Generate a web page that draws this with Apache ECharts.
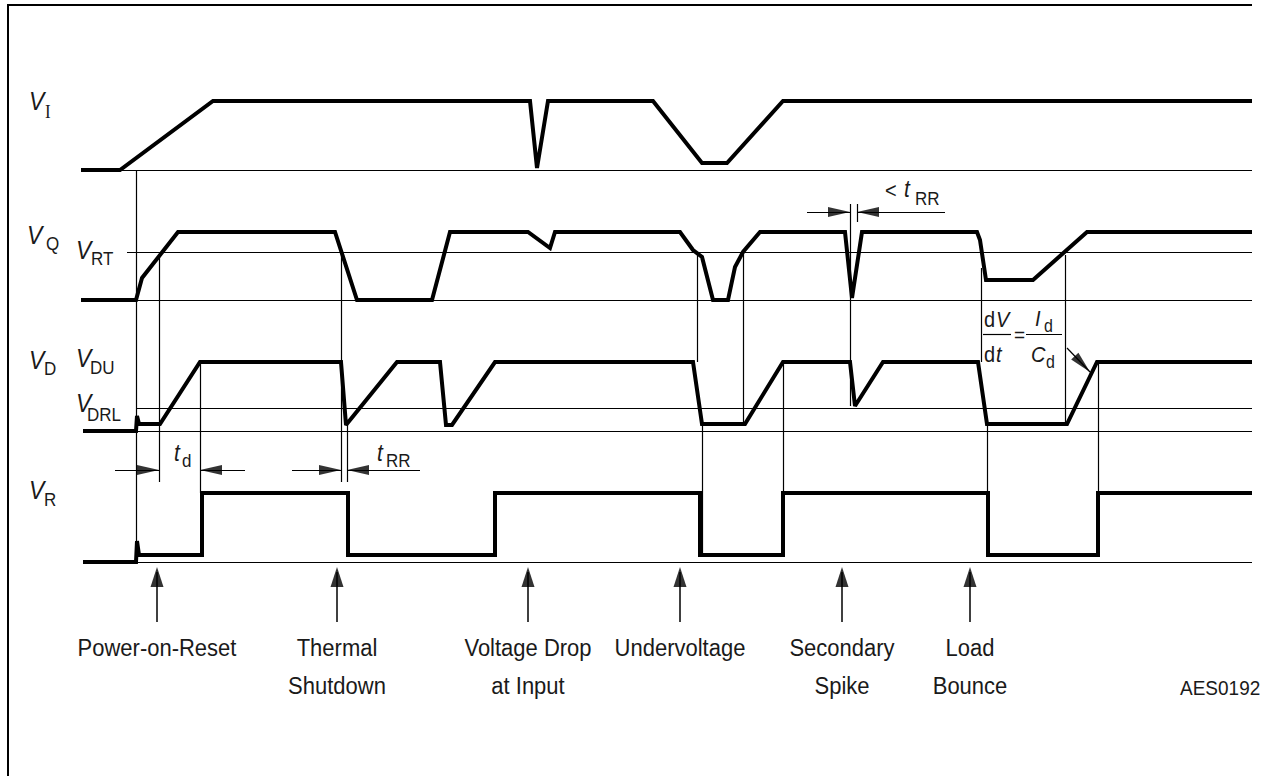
<!DOCTYPE html>
<html><head><meta charset="utf-8">
<script src="https://cdn.jsdelivr.net/npm/echarts@6/dist/echarts.min.js"></script>
<style>html,body{margin:0;padding:0;background:#fff}#c{width:1263px;height:776px}</style>
</head><body><div id="c"></div>
<script>
// ---- Data (time axis 0..1263, level axis 0..776 downward) ----
const VI_T = [81,120,213,530,537,548,653,702,727,783,1252];
const VI_V = [170,170,101,101,168,101,101,163,163,101,101];

const VQ_T = [81,136,142,178,335,357,432,450,528,550,555,680,693,702,713,728,735,743,760,845,852,862,977,980,986,1033,1087,1252];
const VQ_V = [300,300,278,232,232,300,300,232,232,248,232,232,250,257,300,300,267,252,232,232,298,232,232,240,280,280,232,232];

const VD_T = [83,136,137,139,160,200,341,346,397,440,446,452,495,693,702,745,783,850,855,883,978,987,1067,1097,1252];
const VD_V = [431,431,416,424,424,362,362,425,362,362,425,425,362,362,424,424,362,362,406,362,362,424,424,362,362];

const VR_T = [83,136,137,139,202,202,348,348,495,495,700,700,783,783,988,988,1098,1098,1252];
const VR_V = [562,562,541,555,555,493,493,555,555,493,493,555,555,493,493,555,555,493,493];

// reference levels: [from t, to t, level]
const LEVELS = [[120,1252,170],[136,1252,300],[127,1252,252],[136,1252,431],[137,1252,408],[136,1252,562]];
// projection lines: [t, from level, to level]
const PROJ = [[136,170,562],[159,257,482],[200,362,493],[341,250,482],[347,425,482],[697,252,362],[743,252,424],
              [702,424,555],[783,362,493],[850,204,406],[857,204,222],[981,268,362],[987,424,555],[1065,255,424],[1098,362,493]];
// dimension arrows: [from t, from level, tip t, tip level]
const DIM_ARROWS = [[115,470,159,470],[245,470,200,470],[292,470,341,470],[420,470,347,470],
                    [807,212,850,212],[945,212,857,212],[1067,348,1090,372]];

const EVENT_LABELS = ['Power-on-Reset','Thermal\nShutdown','Voltage Drop\nat Input','Undervoltage','Secondary\nSpike','Load\nBounce'];
const EVENT_T = [157,337,528,680,842,970];
const FIG_ID = 'AES0192';

// ---- Chart ----
const chart = echarts.init(document.getElementById('c'), null, {renderer:'svg', width:1263, height:776});
const pairs = (T,V) => T.map((t,i)=>[t,V[i]]);
const seg = (a,b) => [{coord:a},{coord:b}];

function wave(name, T, V){
  return {type:'line', name, data:pairs(T,V), showSymbol:false, symbol:'none', silent:true,
    lineStyle:{color:'#000', width:4, join:'miter', miterLimit:2}};
}

const thin = [];
LEVELS.forEach(([a,b,y]) => thin.push(seg([a,y],[b,y])));
PROJ.forEach(([x,a,b]) => thin.push(seg([x,a],[x,b])));
thin.push(seg([983,334],[1011,334]));
thin.push(seg([1026,334],[1062,334]));

const dimLines = DIM_ARROWS.map(a => seg([a[0],a[1]],[a[2],a[3]]));
const evLines = EVENT_T.map(t => seg([t,622],[t,572]));

// arrowheads as rotated triangles centred half a head-length behind the tip
function heads(list, len){
  return list.map(([x1,y1,x2,y2]) => {
    const dx=x2-x1, dy=y2-y1, d=Math.hypot(dx,dy);
    const rot = Math.atan2(-dy,dx)*180/Math.PI - 90;
    return {value:[x2-dx/d*len/2, y2-dy/d*len/2], symbolRotate: rot};
  });
}
const DIM_HEAD = [10,22];
const EV_HEAD = [13,20];
const dimHeads = heads(DIM_ARROWS, DIM_HEAD[1]);
const evHeads = heads(EVENT_T.map(t => [t,622,t,567]), EV_HEAD[1]);

function markSeries(name, data, width){
  return {type:'line', name, data:[[0,0]], showSymbol:false, symbol:'none', silent:true,
    lineStyle:{opacity:0},
    markLine:{silent:true, animation:false, symbol:'none',
      label:{show:false}, emphasis:{disabled:true},
      lineStyle:{color:'#000', width, type:'solid'}, data}};
}
function headSeries(name, data, size){
  return {type:'scatter', name, data, symbol:'triangle', symbolSize:size, silent:true,
    itemStyle:{color:'#000'}, emphasis:{disabled:true}};
}

const frame = [seg([7,5],[1252,5]), seg([8,5],[8,776])];

chart.setOption({
  animation:false,
  backgroundColor:'#fff',
  grid:{left:0,right:0,top:0,bottom:0},
  xAxis:{type:'value', min:0, max:1263, show:false},
  yAxis:{type:'value', min:0, max:776, inverse:true, show:false},
  series:[
    markSeries('frame', frame, 2),
    markSeries('levels', thin, 1.2),
    markSeries('dims', dimLines, 1.2),
    markSeries('events', evLines, 1.5),
    headSeries('dimHeads', dimHeads, DIM_HEAD),
    headSeries('eventHeads', evHeads, EV_HEAD),
    wave('VI', VI_T, VI_V),
    wave('VQ', VQ_T, VQ_V),
    wave('VD', VD_T, VD_V),
    wave('VR', VR_T, VR_V)
  ]
});

// ---- Text ----
const P = (t,v) => chart.convertToPixel({gridIndex:0},[t,v]);
const SANS = "'Liberation Sans', Arial, sans-serif";
const texts = [];
function txt(t,v,text,size,opt){
  opt = opt||{};
  const p = P(t,v);
  texts.push({type:'text', x:p[0], y:p[1], silent:true, scaleY: opt.sy||1.1,
    style:{text, fill:'#1a1a1a', font:(opt.italic?'italic ':'')+size+'px '+(opt.family||SANS),
      align:opt.align||'left', verticalAlign:'middle'}});
}
// signal names
txt(29,101,'V',23,{italic:true}); txt(45,112,'I',17,{family:"'Liberation Serif', serif"});
txt(27,235,'V',23,{italic:true}); txt(46,244,'Q',17);
txt(29,360,'V',23,{italic:true}); txt(44,369,'D',17);
txt(29,490,'V',23,{italic:true}); txt(44,500,'R',17);
txt(76,250,'V',23,{italic:true}); txt(91,259,'RT',17);
txt(76,358,'V',23,{italic:true}); txt(90,368,'DU',17);
txt(76,403,'V',23,{italic:true}); txt(87,415,'DRL',17);
// timing
txt(174,453,'t',21,{italic:true}); txt(182,461,'d',17);
txt(377,453,'t',21,{italic:true}); txt(386,461,'RR',17);
txt(885,190,'<',20); txt(904,189,'t',21,{italic:true}); txt(915,199,'RR',17);
// dV/dt = Id/Cd
txt(984,319,'d',20); txt(996,319,'V',20,{italic:true});
txt(984,354,'d',20); txt(996,354,'t',20,{italic:true});
txt(1014,335,'=',19);
txt(1035,318,'I',20,{italic:true}); txt(1044,326,'d',16);
txt(1031,354,'C',20,{italic:true}); txt(1046,362,'d',16);
// events
EVENT_LABELS.forEach((lab,i) => {
  lab.split('\n').forEach((line,j) => txt(EVENT_T[i], 648 + j*38, line, 22, {align:'center'}));
});
txt(1180,688,FIG_ID,19);

chart.setOption({graphic:{elements:texts}});
</script></body></html>
